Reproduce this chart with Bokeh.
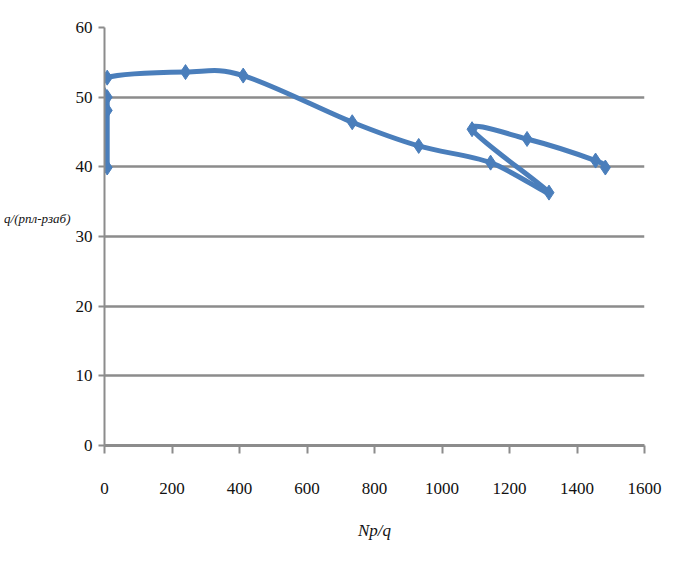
from bokeh.plotting import figure
from bokeh.models import Range1d, FixedTicker
from bokeh.embed import file_html
from bokeh.resources import INLINE

# ---- data ----
np_q = [8, 8, 8, 8, 240, 411, 734, 931, 1144, 1317, 1089, 1252, 1455, 1484]
q_dp = [39.9, 48.1, 50.0, 52.8, 53.6, 53.1, 46.4, 43.0, 40.6, 36.3, 45.4, 44.0, 40.9, 39.9]
x_ticks = [0, 200, 400, 600, 800, 1000, 1200, 1400, 1600]
y_ticks = [0, 10, 20, 30, 40, 50, 60]
x_title = "Np/q"
y_title = "q/(pпл-pзаб)"

BLUE = "#4A7EBB"
GRAY = "#8c8c8c"
SERIF = "Liberation Serif"

p = figure(width=662, height=564, output_backend="svg", toolbar_location=None,
           x_range=Range1d(0, 1600), y_range=Range1d(0, 60))
p.min_border = 0
p.min_border_left = 104
p.min_border_right = 18
p.min_border_top = 27
p.min_border_bottom = 119
p.outline_line_color = None
p.background_fill_color = "white"
p.border_fill_color = "white"

# axes
p.xaxis.ticker = FixedTicker(ticks=x_ticks)
p.yaxis.ticker = FixedTicker(ticks=y_ticks)
for ax in (p.xaxis[0], p.yaxis[0]):
    ax.axis_line_color = GRAY
    ax.major_tick_line_color = GRAY
    ax.major_tick_line_width = 2
    ax.minor_tick_line_color = None
    ax.major_tick_in = 0
    ax.major_label_text_font = SERIF
    ax.major_label_text_font_size = "17px"
    ax.major_label_text_color = "#111111"
    ax.axis_label_text_font = SERIF
    ax.axis_label_text_font_style = "italic"
    ax.axis_label_text_color = "#111111"
p.xaxis.axis_line_width = 3
p.yaxis.axis_line_width = 2
p.xaxis.major_tick_out = 8
p.xaxis.major_label_standoff = 29
p.yaxis.major_tick_out = 6
p.yaxis.major_label_standoff = 6
p.xaxis.axis_label = x_title
p.xaxis.axis_label_text_font_size = "17px"
p.xaxis.axis_label_standoff = 24
# extra blank lines lift the horizontal title above the axis centre
p.yaxis.axis_label = y_title + "\n \n "
p.yaxis.axis_label_orientation = "horizontal"
p.yaxis.axis_label_text_font_size = "13px"
p.yaxis.axis_label_text_align = "left"
p.yaxis.axis_label_standoff = 2

p.xgrid.visible = False
p.ygrid.grid_line_color = GRAY
p.ygrid.grid_line_width = 2.5

# smooth line (Catmull-Rom style bezier segments through the data points)
n = len(np_q)
x0, y0, x1, y1, cx0, cy0, cx1, cy1 = [], [], [], [], [], [], [], []
for i in range(n - 1):
    a = max(i - 1, 0)
    d = min(i + 2, n - 1)
    x0.append(np_q[i]); y0.append(q_dp[i])
    x1.append(np_q[i + 1]); y1.append(q_dp[i + 1])
    cx0.append(np_q[i] + (np_q[i + 1] - np_q[a]) / 6.0)
    cy0.append(q_dp[i] + (q_dp[i + 1] - q_dp[a]) / 6.0)
    cx1.append(np_q[i + 1] - (np_q[d] - np_q[i]) / 6.0)
    cy1.append(q_dp[i + 1] - (q_dp[d] - q_dp[i]) / 6.0)
p.bezier(x0=x0, y0=y0, x1=x1, y1=y1, cx0=cx0, cy0=cy0, cx1=cx1, cy1=cy1,
         line_color=BLUE, line_width=5, line_cap="round")
p.scatter(np_q, q_dp, marker="diamond", size=15, fill_color=BLUE, line_color=BLUE)

open("out.html", "w").write(file_html(p, INLINE))
